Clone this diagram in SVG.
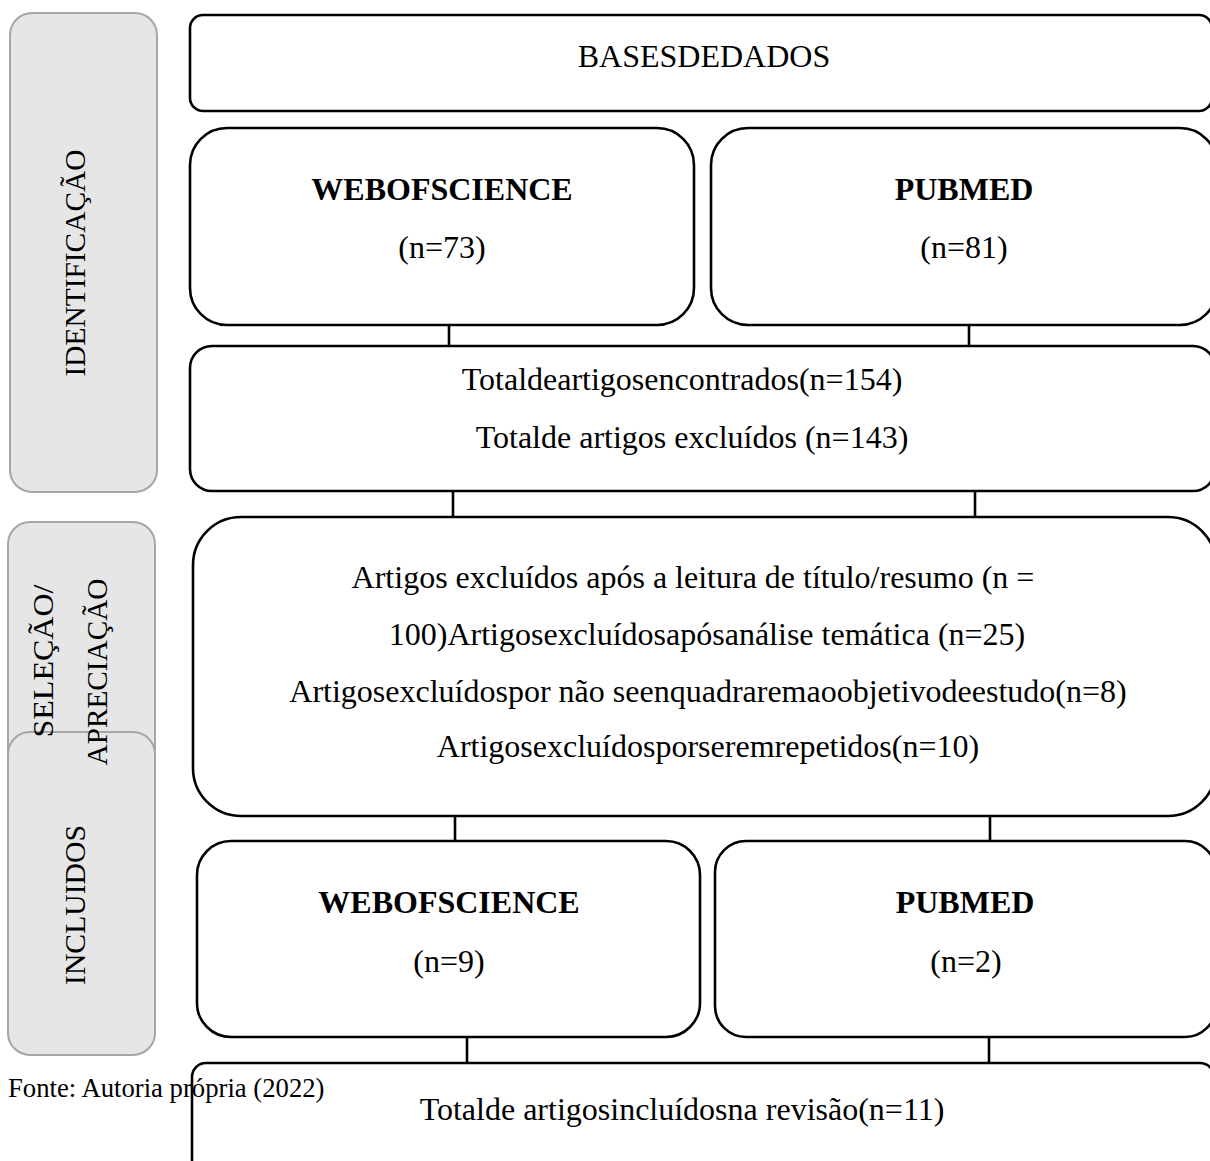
<svg xmlns="http://www.w3.org/2000/svg" width="1210" height="1161" viewBox="0 0 1210 1161">
<style>
.box{fill:#ffffff;stroke:#000000;stroke-width:2.6}
.side{fill:#e6e6e6;stroke:#a6a6a6;stroke-width:2}
.t{font-family:"Liberation Serif","Times New Roman",serif;font-size:32px;fill:#000000;text-anchor:middle}
.b{font-weight:bold}
.s{font-family:"Liberation Serif","Times New Roman",serif;font-size:30px;fill:#000000;text-anchor:middle}
.f{font-family:"Liberation Serif","Times New Roman",serif;font-size:26.7px;fill:#000000}
.c{stroke:#000000;stroke-width:2.6;fill:none}
</style>
<rect width="1210" height="1161" fill="#ffffff"/>
<g id="side-identificacao">
<rect class="side" x="10" y="13" width="147" height="479" rx="22" ry="22"/>
<text class="s" transform="translate(85,263) rotate(-90)" textLength="227" lengthAdjust="spacingAndGlyphs">IDENTIFICAÇÃO</text>
</g>
<g id="side-selecao">
<rect class="side" x="8" y="522" width="147" height="280" rx="22" ry="22"/>
</g>
<g id="side-incluidos">
<rect class="side" x="8" y="732" width="147" height="323" rx="22" ry="22"/>
<text class="s" transform="translate(85,905) rotate(-90)" textLength="160" lengthAdjust="spacingAndGlyphs">INCLUIDOS</text>
</g>
<g id="side-selecao-label">
<text class="s" transform="translate(53,661) rotate(-90)" textLength="153" lengthAdjust="spacingAndGlyphs">SELEÇÃO/</text>
<text class="s" transform="translate(107,672) rotate(-90)" textLength="187" lengthAdjust="spacingAndGlyphs">APRECIAÇÃO</text>
</g>
<g id="connectors">
<line class="c" x1="449" y1="325" x2="449" y2="345"/>
<line class="c" x1="969" y1="325" x2="969" y2="345"/>
<line class="c" x1="453" y1="491" x2="453" y2="517"/>
<line class="c" x1="975" y1="491" x2="975" y2="517"/>
<line class="c" x1="455" y1="816" x2="455" y2="841"/>
<line class="c" x1="990" y1="816" x2="990" y2="841"/>
<line class="c" x1="467" y1="1037" x2="467" y2="1063"/>
<line class="c" x1="989" y1="1037" x2="989" y2="1063"/>
</g>
<g id="bases">
<rect class="box" x="190" y="15" width="1022" height="96" rx="13" ry="13"/>
<text class="t" x="704" y="67">BASESDEDADOS</text>
</g>
<g id="wos1">
<rect class="box" x="190" y="128" width="504" height="197" rx="37" ry="37"/>
<text class="t b" x="442" y="200">WEBOFSCIENCE</text>
<text class="t" x="442" y="258">(n=73)</text>
</g>
<g id="pubmed1">
<rect class="box" x="711" y="128" width="506" height="197" rx="37" ry="37"/>
<text class="t b" x="964" y="200">PUBMED</text>
<text class="t" x="964" y="258">(n=81)</text>
</g>
<g id="total">
<rect class="box" x="190" y="346" width="1025" height="145" rx="22" ry="22"/>
<text class="t" x="682" y="390">Totaldeartigosencontrados(n=154)</text>
<text class="t" x="692" y="448">Totalde artigos excluídos (n=143)</text>
</g>
<g id="excluidos">
<rect class="box" x="193" y="517" width="1023" height="299" rx="48" ry="48"/>
<text class="t" x="693" y="588">Artigos excluídos após a leitura de título/resumo (n =</text>
<text class="t" x="707" y="645">100)Artigosexcluídosapósanálise temática (n=25)</text>
<text class="t" x="708" y="702">Artigosexcluídospor não seenquadraremaoobjetivodeestudo(n=8)</text>
<text class="t" x="708" y="757">Artigosexcluídosporseremrepetidos(n=10)</text>
</g>
<g id="wos2">
<rect class="box" x="197" y="841" width="503" height="196" rx="34" ry="34"/>
<text class="t b" x="449" y="913">WEBOFSCIENCE</text>
<text class="t" x="449" y="972">(n=9)</text>
</g>
<g id="pubmed2">
<rect class="box" x="715" y="841" width="501" height="196" rx="31" ry="31"/>
<text class="t b" x="965" y="913">PUBMED</text>
<text class="t" x="966" y="972">(n=2)</text>
</g>
<g id="final">
<rect class="box" x="192" y="1063" width="1022" height="130" rx="14" ry="14"/>
<text class="t" x="682" y="1120">Totalde artigosincluídosna revisão(n=11)</text>
</g>
<text class="f" x="8" y="1097">Fonte: Autoria própria (2022)</text>
</svg>
